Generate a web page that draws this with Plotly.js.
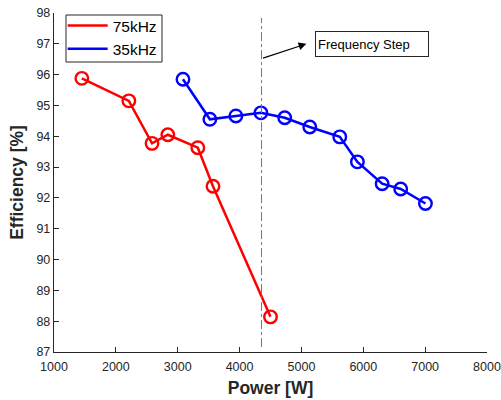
<!DOCTYPE html>
<html>
<head>
<meta charset="utf-8">
<script src="https://cdn.plot.ly/plotly-3.0.1.min.js"></script>
<style>
  html, body { margin: 0; padding: 0; background: #fff; }
  #chart { width: 501px; height: 400px; }
</style>
</head>
<body>
<div id="chart"></div>
<script>
// Converter efficiency versus output power at two switching frequencies
const power75 = [1450, 2210, 2585, 2840, 3325, 3570, 4500];
const eff75   = [95.88, 95.15, 93.77, 94.05, 93.63, 92.38, 88.14];

const power35 = [3085, 3520, 3940, 4345, 4730, 5135, 5620, 5905, 6305, 6605, 7005];
const eff35   = [95.85, 94.55, 94.66, 94.76, 94.60, 94.30, 93.98, 93.17, 92.46, 92.29, 91.82];

const seriesNames = ['75kHz', '35kHz'];
const stepPower = 4355;          // where the switching frequency changes
const stepLabel = 'Frequency Step';

const xTicks = [1000, 2000, 3000, 4000, 5000, 6000, 7000, 8000];
const yTicks = [87, 88, 89, 90, 91, 92, 93, 94, 95, 96, 97, 98];

const RED = '#ff0000', BLUE = '#0000ff', INK = '#262626';
const FONT = 'Liberation Sans, Arial, Helvetica, sans-serif';

function lineTrace(x, y, name, color) {
  return { x: x, y: y, name: name, type: 'scatter', mode: 'lines',
           line: { color: color, width: 2.5 }, hoverinfo: 'skip' };
}
function markerTrace(x, y, name, color) {
  return { x: x, y: y, name: name, type: 'scatter', mode: 'markers', showlegend: false,
           marker: { symbol: 'circle-open', size: 12.5, color: color,
                     line: { color: color, width: 2.4 } }, hoverinfo: 'skip' };
}

const data = [
  lineTrace(power75, eff75, seriesNames[0], RED),
  lineTrace(power35, eff35, seriesNames[1], BLUE),
  markerTrace(power75, eff75, seriesNames[0], RED),
  markerTrace(power35, eff35, seriesNames[1], BLUE)
];

const axisCommon = {
  showgrid: false, zeroline: false, showline: true, mirror: false,
  linecolor: INK, linewidth: 1.2, ticks: 'inside', ticklen: 5, tickwidth: 1,
  tickcolor: INK, tickfont: { family: FONT, size: 12.5, color: INK }
};

const layout = {
  width: 501, height: 400,
  margin: { l: 54, r: 14, t: 13, b: 48, autoexpand: false },
  paper_bgcolor: '#fff', plot_bgcolor: '#fff',
  font: { family: FONT, color: INK },
  showlegend: true,
  legend: {
    x: 0.02, y: 1.012, xanchor: 'left', yanchor: 'top',
    bgcolor: 'rgba(0,0,0,0)', borderwidth: 0,
    font: { family: FONT, size: 15.5, color: '#000' },
    itemwidth: 40, tracegroupgap: 0
  },
  xaxis: Object.assign({}, axisCommon, {
    range: [1000, 8000], tickvals: xTicks, ticktext: xTicks.map(String),
    ticklabelstandoff: 3,
    title: { text: 'Power [W]', standoff: 8,
             font: { family: FONT, size: 17.5, color: INK, weight: 'bold' } }
  }),
  yaxis: Object.assign({}, axisCommon, {
    range: [87, 98], tickvals: yTicks, ticktext: yTicks.map(String),
    title: { text: 'Efficiency [%]', standoff: 8,
             font: { family: FONT, size: 17.5, color: INK, weight: 'bold' } }
  }),
  shapes: [
    {
      // legend frame
      type: 'rect', xref: 'paper', yref: 'paper', layer: 'below',
      x0: 12 / 433, x1: 108 / 433, y0: 1 - 49 / 339, y1: 1 - 2 / 339,
      line: { color: INK, width: 1 }, fillcolor: '#fff'
    },
    {
      type: 'line', xref: 'x', yref: 'y',
      x0: stepPower, x1: stepPower, y0: 87.16, y1: 97.84,
      line: { color: '#777', width: 1, dash: 'dashdot' }
    }
  ],
  annotations: [
    {
      xref: 'x', yref: 'y', axref: 'x', ayref: 'y',
      x: 5080, y: 97.0, ax: stepPower, ay: 96.52,
      text: '', showarrow: true, arrowhead: 2, arrowsize: 1.3, arrowwidth: 1.2,
      arrowcolor: '#000'
    },
    {
      xref: 'x', yref: 'y', x: 6137, y: 96.99,
      xanchor: 'center', yanchor: 'middle',
      text: stepLabel, showarrow: false, align: 'left',
      width: 108, height: 20, borderpad: 2,
      bordercolor: INK, borderwidth: 1, bgcolor: '#fff',
      font: { family: FONT, size: 13, color: '#000' }
    }
  ]
};

Plotly.newPlot('chart', data, layout, { displayModeBar: false, staticPlot: true });
</script>
</body>
</html>
